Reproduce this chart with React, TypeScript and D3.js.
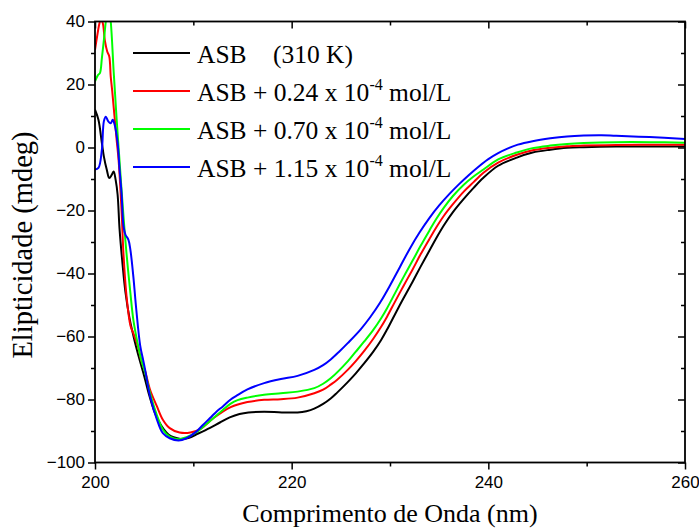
import { useEffect, useRef } from "react";
import * as d3 from "d3";

// [wavelength nm, ellipticity mdeg]
const asb310: [number, number][] = [
  [200, 12], [200.35, 8.8], [200.7, 1.4], [200.9, -2.8], [201.2, -7.1], [201.45, -9.7],
  [201.7, -8.7], [201.9, -7.6], [202.1, -10.3], [202.3, -15], [202.5, -26], [202.8, -37],
  [203.1, -46], [203.5, -54], [204, -61], [204.5, -67], [205, -72.5], [205.5, -78.5],
  [206, -83.5], [206.5, -87], [207, -89.5], [207.5, -91.2], [208, -92], [208.7, -92.5],
  [209.5, -92.2], [210.5, -90.8], [211.7, -89], [212.7, -87.3], [213.7, -85.7], [214.7, -84.6],
  [215.6, -84.1], [217.2, -83.9], [219, -84.1], [220.6, -84.1], [221.5, -83.7], [222.3, -82.9],
  [223.2, -81.4], [224, -79.6], [224.6, -77.9], [225.7, -74.5], [226.5, -71.8], [227.3, -68.8],
  [228.3, -64.8], [229.1, -61.1], [229.7, -57.8], [230.5, -53], [231.4, -47.7], [232.3, -42.6],
  [233.1, -37.9], [234, -32.8], [234.7, -28.8], [235.5, -24.6], [236.4, -20.5], [237.5, -16.3],
  [238.5, -12.8], [239.5, -9.6], [241, -5.8], [242.9, -3.2], [244.5, -1.6], [246.3, -0.7],
  [248, -0.1], [249.7, 0.1], [253, 0.3], [256.5, 0.3], [260, 0.3],
];

const asb024: [number, number][] = [
  [200, 31], [200.2, 35], [200.45, 39.4], [200.6, 40.8], [200.8, 39.4], [201, 34],
  [201.25, 30.4], [201.45, 28.9], [201.6, 22.5], [201.75, 18], [202.2, 2.4], [202.4, -4],
  [202.7, -20], [202.9, -34], [203.2, -47], [203.6, -56.5], [203.9, -59], [204.4, -63.5],
  [204.7, -67.5], [205.1, -71], [205.6, -76.9], [206.3, -82.2], [206.9, -86.4], [207.6, -89.1],
  [208.6, -90.5], [209.7, -90.5], [210.7, -89.4], [212.1, -85.8], [213.8, -82.4], [215.5, -80.8],
  [217.2, -80.1], [218.9, -79.9], [220.6, -79.4], [222.3, -78], [223.2, -76.9], [224, -75.2],
  [224.6, -73.8], [225.7, -70.6], [226.5, -67.9], [227.4, -64.5], [228.3, -60.7], [229.1, -56.9],
  [229.7, -53.7], [230.5, -49], [231.4, -43.8], [232.3, -38.7], [233.1, -34], [234, -29.1],
  [234.7, -25.4], [235.5, -21.6], [236.4, -18], [237.5, -14], [238.5, -11], [239.5, -8],
  [241, -4.8], [242.9, -2.3], [244.5, -0.9], [246.3, -0.1], [248, 0.4], [249.7, 0.6],
  [253, 0.8], [256.5, 0.9], [260, 0.9],
];

const asb070: [number, number][] = [
  [200, 21], [200.3, 23], [200.5, 23.6], [200.7, 28.4], [200.9, 34], [201.1, 40],
  [201.35, 46], [201.6, 40], [201.9, 24], [202.2, 9], [202.5, -4.5], [202.9, -22],
  [203.2, -33.5], [203.6, -46.2], [203.9, -54.7], [204.4, -63.2], [204.7, -67.4], [205.1, -71.5],
  [205.6, -78], [206.3, -85], [206.9, -89.5], [207.6, -91.8], [208.5, -92.6], [209.3, -92],
  [210.4, -90.2], [211.7, -86.8], [213, -83.3], [213.8, -81.3], [214.5, -80.2], [215.5, -79.4],
  [217.2, -78.5], [218.9, -78], [220.6, -77.5], [222.3, -76.4], [223.2, -75], [224, -73.2],
  [225.7, -67.9], [226.5, -64.9], [227.4, -61.5], [228.3, -57.9], [229.1, -54.2], [229.7, -51],
  [230.5, -46.3], [231.4, -41], [232.3, -35.9], [233.1, -31.3], [234, -26.4], [234.7, -22.7],
  [235.5, -19], [236.4, -15.4], [237.5, -11.8], [238.5, -9.2], [239.5, -7], [241, -3.8],
  [242.9, -1.6], [244.5, -0.2], [246.3, 0.6], [248, 1.1], [249.7, 1.4], [253, 1.7],
  [256.5, 1.7], [260, 1.5],
];

const asb115: [number, number][] = [
  [200, -7], [200.35, -6.5], [200.7, -0.7], [200.9, 8.3], [201.1, 9.8], [201.35, 8.3],
  [201.6, 7.7], [201.8, 8.8], [202, 7.2], [202.3, 1.4], [202.5, -7], [202.7, -14.5],
  [202.9, -25], [203.1, -27.7], [203.4, -29.3], [203.6, -32.5], [203.9, -41], [204.2, -51.5],
  [204.6, -63], [204.9, -67.5], [205.1, -70.6], [205.6, -79], [206.3, -86.4], [206.9, -90.7],
  [207.6, -92.3], [208.5, -93], [209.3, -92.3], [210.3, -90.2], [211, -88], [211.7, -85.9],
  [212.4, -83.7], [213, -82.2], [213.8, -80], [214.4, -78.8], [215.5, -76.8], [217.2, -74.8],
  [218.9, -73.5], [220.6, -72.5], [222.3, -70.6], [223.2, -69.1], [224, -67.2], [224.8, -64.9],
  [225.7, -62.1], [227, -57.8], [228, -53.8], [229, -49.2], [230, -43.8], [231, -38],
  [232, -32.2], [233, -27], [234, -22.4], [235, -18.4], [236, -14.9], [237, -11.7],
  [238, -8.8], [239, -6.1], [240, -3.7], [241, -1.8], [242, -0.3], [243, 0.9],
  [244.5, 2], [246.3, 2.9], [248, 3.5], [249.7, 3.8], [251.5, 3.9], [253, 3.7],
  [256.4, 3.3], [260, 2.7],
];

const seriesList = [
  { label: "ASB", extra: "(310 K)", color: "#000000", data: asb310 },
  { label: "ASB + 0.24 x 10", extra: null, color: "#ff0000", data: asb024 },
  { label: "ASB + 0.70 x 10", extra: null, color: "#00ff00", data: asb070 },
  { label: "ASB + 1.15 x 10", extra: null, color: "#0000ff", data: asb115 },
];

const xMajor = [200, 220, 240, 260];
const xMinor = [210, 230, 250];
const yMajor = [-100, -80, -60, -40, -20, 0, 20, 40];
const yMinor = [-90, -70, -50, -30, -10, 10, 30];

const width = 699;
const height = 530;
const margin = { top: 21.5, right: 14, bottom: 67.5, left: 95 };
const serif = "'Liberation Serif', 'Times New Roman', serif";
const sans = "'Liberation Sans', Arial, sans-serif";

export default function App() {
  const ref = useRef<SVGSVGElement>(null);

  useEffect(() => {
    const svg = d3.select(ref.current);
    svg.selectAll("*").remove();

    const x = d3.scaleLinear().domain([200, 260]).range([margin.left, width - margin.right]);
    const y = d3.scaleLinear().domain([-100, 40]).range([height - margin.bottom, margin.top]);

    svg.append("defs").append("clipPath").attr("id", "plot-clip")
      .append("rect")
      .attr("x", x(200)).attr("y", y(40))
      .attr("width", x(260) - x(200)).attr("height", y(-100) - y(40));

    const line = d3.line<[number, number]>()
      .x((d) => x(d[0]))
      .y((d) => y(d[1]))
      .curve(d3.curveCatmullRom.alpha(0.5));

    const plot = svg.append("g").attr("clip-path", "url(#plot-clip)");
    seriesList.forEach((s) => {
      plot.append("path")
        .datum(s.data)
        .attr("fill", "none")
        .attr("stroke", s.color)
        .attr("stroke-width", 2)
        .attr("stroke-linejoin", "round")
        .attr("d", line);
    });

    const styleAxis = (g: any) => {
      g.select(".domain").remove();
      g.selectAll("line").attr("stroke", "#000").attr("stroke-width", 1.5);
    };

    // bottom (outward)
    svg.append("g").attr("transform", `translate(0,${y(-100)})`)
      .call(d3.axisBottom(x).tickValues(xMajor).tickSize(7).tickPadding(6).tickFormat(d3.format("d")))
      .call(styleAxis)
      .call((g: any) => g.selectAll("text").attr("font-family", sans).attr("font-size", 17).attr("fill", "#000"));
    svg.append("g").attr("transform", `translate(0,${y(-100)})`)
      .call(d3.axisBottom(x).tickValues(xMinor).tickSize(4).tickFormat(() => ""))
      .call(styleAxis);

    // top (inward)
    svg.append("g").attr("transform", `translate(0,${y(40)})`)
      .call(d3.axisTop(x).tickValues(xMajor).tickSize(-7).tickFormat(() => ""))
      .call(styleAxis);
    svg.append("g").attr("transform", `translate(0,${y(40)})`)
      .call(d3.axisTop(x).tickValues(xMinor).tickSize(-4).tickFormat(() => ""))
      .call(styleAxis);

    // left (outward)
    svg.append("g").attr("transform", `translate(${x(200)},0)`)
      .call(d3.axisLeft(y).tickValues(yMajor).tickSize(7).tickPadding(3).tickFormat(d3.format("d")))
      .call(styleAxis)
      .call((g: any) => g.selectAll("text").attr("font-family", sans).attr("font-size", 17).attr("fill", "#000"));
    svg.append("g").attr("transform", `translate(${x(200)},0)`)
      .call(d3.axisLeft(y).tickValues(yMinor).tickSize(4).tickFormat(() => ""))
      .call(styleAxis);

    // right (inward)
    svg.append("g").attr("transform", `translate(${x(260)},0)`)
      .call(d3.axisRight(y).tickValues(yMajor).tickSize(-7).tickFormat(() => ""))
      .call(styleAxis);
    svg.append("g").attr("transform", `translate(${x(260)},0)`)
      .call(d3.axisRight(y).tickValues(yMinor).tickSize(-4).tickFormat(() => ""))
      .call(styleAxis);

    svg.append("rect")
      .attr("x", x(200)).attr("y", y(40))
      .attr("width", x(260) - x(200)).attr("height", y(-100) - y(40))
      .attr("fill", "none").attr("stroke", "#000").attr("stroke-width", 1.8);

    // legend
    const legend = svg.append("g");
    seriesList.forEach((s, i) => {
      const cy = 53 + i * 38;
      legend.append("line")
        .attr("x1", 133).attr("x2", 190).attr("y1", cy).attr("y2", cy)
        .attr("stroke", s.color).attr("stroke-width", 2);
      const t = legend.append("text")
        .attr("x", 197).attr("y", cy + 10)
        .attr("font-family", serif).attr("font-size", 25.5).attr("fill", "#000");
      t.append("tspan").text(s.label);
      if (s.extra) {
        t.append("tspan").attr("x", 273).text(s.extra);
      } else {
        t.append("tspan").attr("dy", -11).attr("font-size", 16).text("-4");
        t.append("tspan").attr("dy", 11).text(" mol/L");
      }
    });

    svg.append("text")
      .attr("x", (x(200) + x(260)) / 2).attr("y", 522)
      .attr("text-anchor", "middle")
      .attr("font-family", serif).attr("font-size", 26).attr("fill", "#000")
      .text("Comprimento de Onda (nm)");

    svg.append("text")
      .attr("transform", `translate(32,${(y(40) + y(-100)) / 2 + 3}) rotate(-90)`)
      .attr("text-anchor", "middle")
      .attr("font-family", serif).attr("font-size", 28.5).attr("fill", "#000")
      .text("Elipticidade (mdeg)");
  }, []);

  return (
    <svg
      ref={ref}
      width={width}
      height={height}
      style={{ position: "absolute", left: 0, top: 0, background: "#fff" }}
    />
  );
}
